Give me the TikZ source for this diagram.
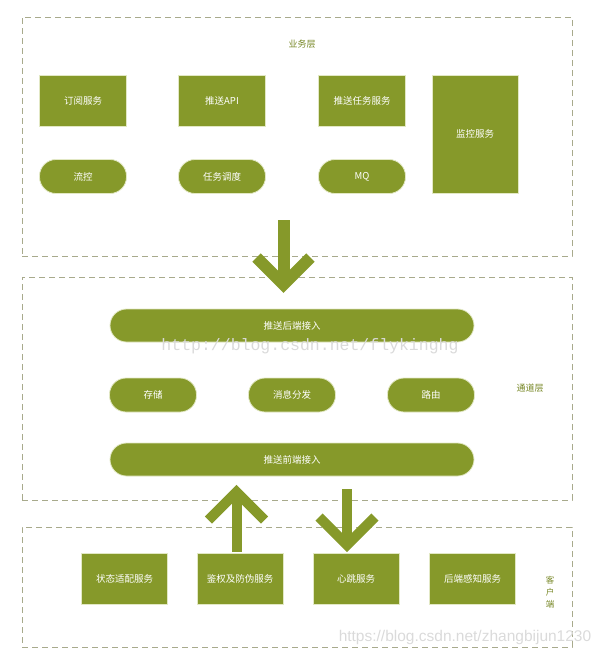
\documentclass[tikz,border=0pt]{standalone}
\usepackage{fontspec}
\newfontfamily\cjk{Noto Sans CJK SC}
\newfontfamily\wmmono{Liberation Mono}
\newfontfamily\wmsans{Liberation Sans}
\usetikzlibrary{positioning, calc}

\definecolor{olivefill}{RGB}{134,153,42}
\definecolor{boxrim}{RGB}{226,232,196}
\definecolor{layerdash}{RGB}{168,170,140}
\definecolor{lblgreen}{RGB}{118,134,36}
\definecolor{wmgray}{RGB}{218,218,218}

\begin{document}
\begin{tikzpicture}[
  x=1pt, y=-1pt,
  every node/.style={font=\cjk\fontsize{9.5}{11}\selectfont},
  layer/.style   ={draw=layerdash, dash pattern=on 6pt off 4pt, line width=0.9pt,
                   minimum width=550pt, inner sep=0pt},
  svc/.style     ={draw=boxrim, line width=0.8pt, fill=olivefill, text=white,
                   minimum width=87pt, minimum height=51pt, inner sep=0pt},
  pill/.style    ={draw=boxrim, line width=0.8pt, fill=olivefill, text=white,
                   rounded corners=16.5pt, minimum width=87pt, minimum height=34pt,
                   inner sep=0pt},
  lbl/.style     ={text=lblgreen, font=\cjk\fontsize{9}{11}\selectfont},
  bigarrow/.style={draw=olivefill, line width=12pt, line join=miter},
]
\useasboundingbox (0,0) rectangle (603,657);

%% ---- layers ----
\node[layer, minimum height=239pt] (biz)  at (297,136.5) {};
\node[layer, minimum height=223pt] (chan) at (297,388.5) {};
\node[layer, minimum height=120pt] (cli)  at (297,587) {};

\node[lbl] (bizlbl)  at (302,44)  {业务层};
\node[lbl] (chanlbl) at (530,388) {通道层};
\node[lbl, align=center, font=\cjk\fontsize{8.5}{12}\selectfont] (clilbl) at (550,592)
  {客\\户\\端};

%% ---- 业务层 ----
\node[svc] (sub)  at (83,100.5)  {订阅服务};
\node[svc] (api)  at (222,100.5) {推送API};
\node[svc] (task) at (362,100.5) {推送任务服务};
\node[svc, minimum width=86pt, minimum height=118pt] (mon) at (475,134) {监控服务};

\node[pill] (flow)  at (83,176.5)  {流控};
\node[pill] (sched) at (222,176.5) {任务调度};
\node[pill] (mq)    at (362,176.5) {MQ};

%% ---- 通道层 ----
\node[pill, minimum width=364pt, minimum height=33pt] (back) at (292,325.5) {推送后端接入};
\node[pill] (store) at (153,395) {存储};
\node[pill] (disp)  at (292,395) {消息分发};
\node[pill] (route) at (431,395) {路由};
\node[pill, minimum width=364pt, minimum height=33pt] (front) at (292,459.5) {推送前端接入};

%% ---- 客户端 ----
\node[svc, minimum width=86pt] (state) at (124.5,578.5) {状态适配服务};
\node[svc, minimum width=86pt] (auth)  at (240,578.5)   {鉴权及防伪服务};
\node[svc, minimum width=86pt] (beat)  at (356,578.5)   {心跳服务};
\node[svc, minimum width=86pt] (sense) at (472.5,578.5) {后端感知服务};

%% ---- arrows ----
\coordinate (a1s) at (283.5,220);
\coordinate (a1t) at (283.5,284.5);
\draw[bigarrow] (a1s) -- (a1t);
\draw[bigarrow] ($(a1t)+(-27,-27)$) -- (a1t) -- ($(a1t)+(27,-27)$);

\coordinate (a2s) at (236.5,552);
\coordinate (a2t) at (236.5,492);
\draw[bigarrow, line width=10pt] (a2s) -- (a2t);
\draw[bigarrow, line width=10pt] ($(a2t)+(-28,28)$) -- (a2t) -- ($(a2t)+(28,28)$);

\coordinate (a3s) at (347,489);
\coordinate (a3t) at (347,545);
\draw[bigarrow, line width=10pt] (a3s) -- (a3t);
\draw[bigarrow, line width=10pt] ($(a3t)+(-28,-28)$) -- (a3t) -- ($(a3t)+(28,-28)$);

%% ---- watermarks ----
\node[text=wmgray, font=\wmmono\fontsize{16.5}{18}\selectfont] (wm1) at (310,346)
  {http://blog.csdn.net/flykinghg};
\node[text=wmgray, font=\wmsans\fontsize{15.5}{17}\selectfont] (wm2) at (465,637)
  {https://blog.csdn.net/zhangbijun1230};

\end{tikzpicture}
\end{document}
